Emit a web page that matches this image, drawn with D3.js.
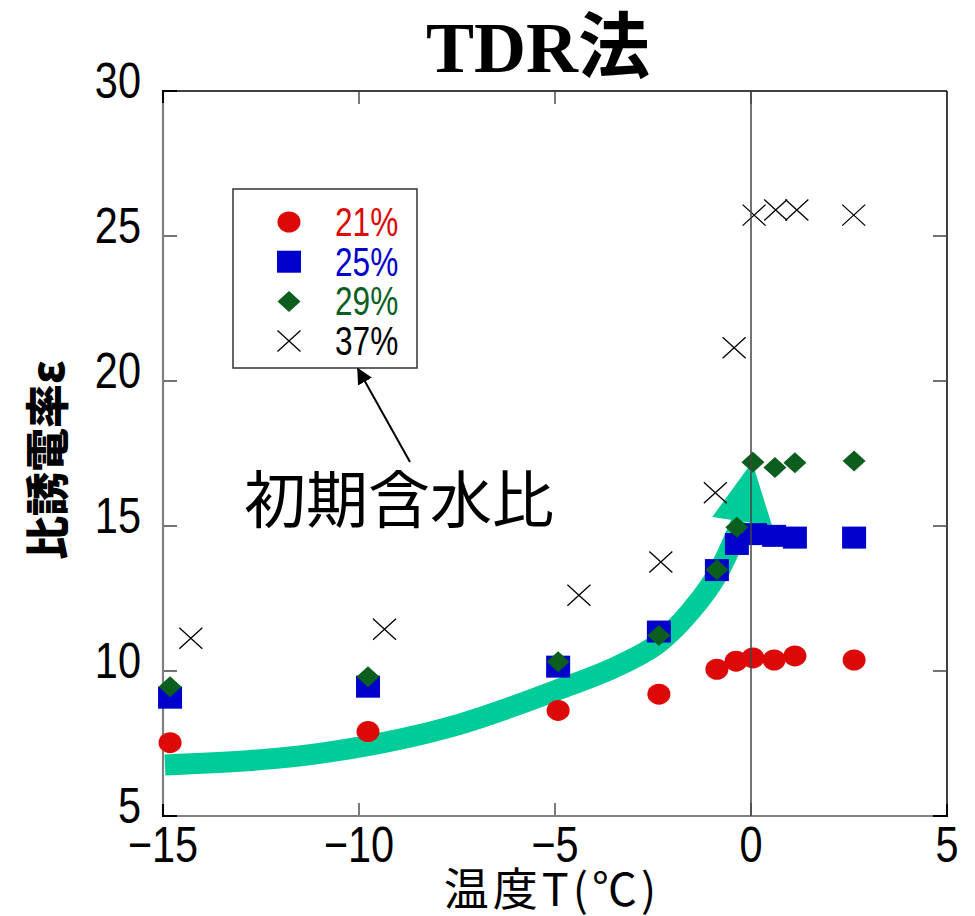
<!DOCTYPE html>
<html><head><meta charset="utf-8">
<script src="https://cdn.jsdelivr.net/npm/d3@7"></script>
<style>
html,body{margin:0;padding:0;background:#fff;}
svg{display:block;}
.num{font-family:"Liberation Sans","Arial",sans-serif;}
.cjk{font-family:"Noto Sans CJK JP","Noto Sans CJK SC",sans-serif;}
</style></head>
<body>
<svg id="chart" width="975" height="916"></svg>
<script>
// ---- data ----
const seriesNames = ["21%", "25%", "29%", "37%"];
const seriesColors = ["#DD0808", "#0000CC", "#0B5E1E", "#000000"];
const temp21 = [-14.82, -9.77, -4.92, -2.35, -0.87, -0.38, 0.05, 0.59, 1.12, 2.63];
const eps21  = [7.53, 7.91, 8.64, 9.20, 10.06, 10.34, 10.45, 10.38, 10.52, 10.38];
const temp25 = [-14.82, -9.77, -4.92, -2.35, -0.87, -0.36, 0.10, 0.59, 1.12, 2.63];
const eps25  = [9.08, 9.46, 10.15, 11.36, 13.48, 14.38, 14.72, 14.66, 14.60, 14.60];
const temp29 = [-14.82, -9.77, -4.92, -2.35, -0.87, -0.36, 0.05, 0.61, 1.12, 2.63];
const eps29  = [9.46, 9.80, 10.32, 11.22, 13.49, 14.96, 17.20, 17.02, 17.18, 17.24];
const temp37 = [-14.29, -9.35, -4.39, -2.30, -0.91, -0.43, 0.08, 0.63, 1.17, 2.62];
const eps37  = [11.13, 11.44, 12.61, 13.76, 16.15, 21.15, 25.72, 25.90, 25.90, 25.72];
const xTicks = [-15, -10, -5, 0, 5];
const yTicks = [5, 10, 15, 20, 25, 30];
// trend arrow (annotation) in data units
const trendX = [-14.95, -10.74, -7.42, -4.95, -3.34, -2.35, -1.56, -0.87, -0.23];
const trendY = [6.76, 7.21, 8.17, 9.34, 10.21, 10.97, 12.03, 13.31, 15.17];
const headX = [0.03, -0.99, 0.54];
const headY = [17.21, 15.31, 15.00];

const svg = d3.select("#chart");
const x = d3.scaleLinear().domain([-15, 5]).range([163, 947]);
const y = d3.scaleLinear().domain([5, 30]).range([816, 91]);

// condensed text helper
function ctext(parent, tx, ty, str, size, sx, anchor, color) {
  const g = parent.append("g").attr("transform", `translate(${tx},${ty}) scale(${sx},1)`);
  g.append("text").attr("class", "num").attr("x", 0).attr("y", 0)
    .attr("text-anchor", anchor).attr("dominant-baseline", "central")
    .attr("font-size", size).attr("fill", color).text(str);
  return g;
}

// trend band
const line = d3.line().x(d => x(d[0])).y(d => y(d[1])).curve(d3.curveMonotoneX);
svg.append("path").attr("d", line(d3.zip(trendX, trendY)))
  .attr("fill", "none").attr("stroke", "#00CC99").attr("stroke-width", 21).attr("stroke-linecap", "butt");
svg.append("path").attr("d", "M" + d3.zip(headX, headY).map(d => x(d[0]) + "," + y(d[1])).join("L") + "Z")
  .attr("fill", "#00CC99");

// frame: top & right black
svg.append("line").attr("x1", x(-15)).attr("x2", x(5)).attr("y1", y(30)).attr("y2", y(30)).attr("stroke", "#000").attr("stroke-width", 1.5);
svg.append("line").attr("x1", x(5)).attr("x2", x(5)).attr("y1", y(30)).attr("y2", y(5)).attr("stroke", "#000").attr("stroke-width", 1.5);

// ticks
const tl = 14;
yTicks.filter(v => v > 5 && v < 30).forEach(v => {
  svg.append("line").attr("x1", x(-15)).attr("x2", x(-15) + tl).attr("y1", y(v)).attr("y2", y(v)).attr("stroke", "#444").attr("stroke-width", 1.5);
  svg.append("line").attr("x1", x(5)).attr("x2", x(5) - tl).attr("y1", y(v)).attr("y2", y(v)).attr("stroke", "#444").attr("stroke-width", 1.5);
});
xTicks.filter(v => v > -15 && v < 5).forEach(v => {
  svg.append("line").attr("x1", x(v)).attr("x2", x(v)).attr("y1", y(30)).attr("y2", y(30) + 13).attr("stroke", "#333").attr("stroke-width", 1.3);
  svg.append("line").attr("x1", x(v)).attr("x2", x(v)).attr("y1", y(5)).attr("y2", y(5) - 13).attr("stroke", "#333").attr("stroke-width", 1.3);
});
svg.append("line").attr("x1", x(-15)).attr("x2", x(-15)).attr("y1", y(30)).attr("y2", y(5)).attr("stroke", "#808080").attr("stroke-width", 2.2);
svg.append("line").attr("x1", x(-15)).attr("x2", x(5)).attr("y1", y(5)).attr("y2", y(5)).attr("stroke", "#808080").attr("stroke-width", 2.2);
// corner marks
svg.append("path").attr("d", `M${x(-15)+14},${y(30)}H${x(-15)}V${y(30)+12}`).attr("fill", "none").attr("stroke", "#000").attr("stroke-width", 2);
svg.append("path").attr("d", `M${x(-15)},${y(5)-12}V${y(5)}H${x(-15)+14}`).attr("fill", "none").attr("stroke", "#000").attr("stroke-width", 2);
svg.append("path").attr("d", `M${x(5)-14},${y(5)}H${x(5)}V${y(5)-12}`).attr("fill", "none").attr("stroke", "#000").attr("stroke-width", 2);

// tick labels
yTicks.forEach(v => ctext(svg, 141, y(v) - 10, String(v), 50, 0.83, "end", "#000"));
xTicks.forEach(v => ctext(svg, x(v), 845, v < 0 ? "\u2212" + Math.abs(v) : String(v), 50, 0.83, "middle", "#000"));

// markers
function drawMarker(g, type, cx, cy, color) {
  if (type === 0) g.append("ellipse").attr("cx", cx).attr("cy", cy).attr("rx", 11.5).attr("ry", 10.5).attr("fill", color);
  else if (type === 1) g.append("rect").attr("x", cx - 12).attr("y", cy - 11).attr("width", 24).attr("height", 22).attr("fill", color);
  else if (type === 2) g.append("path").attr("d", `M${cx},${cy-10.5}L${cx+11.5},${cy}L${cx},${cy+10.5}L${cx-11.5},${cy}Z`).attr("fill", color);
  else g.append("path").attr("d", `M${cx-11.5},${cy-10.5}L${cx+11.5},${cy+10.5}M${cx-11.5},${cy+10.5}L${cx+11.5},${cy-10.5}`).attr("stroke", color).attr("stroke-width", 1.3).attr("fill", "none");
}
const allSeries = [[temp21, eps21], [temp25, eps25], [temp29, eps29], [temp37, eps37]];
const mg = svg.append("g");
allSeries.forEach((s, i) => {
  s[0].forEach((t, j) => drawMarker(mg, i, x(t), y(s[1][j]), seriesColors[i]));
});

// zero line
svg.append("line").attr("x1", x(0)).attr("x2", x(0)).attr("y1", y(30)).attr("y2", y(5)).attr("stroke", "#444").attr("stroke-width", 1.5);

// legend
svg.append("rect").attr("x", 233).attr("y", 189).attr("width", 184).attr("height", 179)
  .attr("fill", "#fff").attr("stroke", "#333").attr("stroke-width", 1.5);
seriesNames.forEach((n, i) => {
  const ly = 222 + i * 39.7;
  drawMarker(svg, i, 289, ly, seriesColors[i]);
  ctext(svg, 335, ly, n, 40, 0.79, "start", seriesColors[i]);
});

// annotation arrow
svg.append("defs").append("marker").attr("id", "ah").attr("viewBox", "0 0 10 10").attr("refX", 9).attr("refY", 5)
  .attr("markerWidth", 8).attr("markerHeight", 8).attr("orient", "auto").attr("markerUnits", "strokeWidth")
  .append("path").attr("d", "M0,0L10,5L0,10Z").attr("fill", "#000");
svg.append("line").attr("x1", 410).attr("y1", 462).attr("x2", 358).attr("y2", 369)
  .attr("stroke", "#000").attr("stroke-width", 2).attr("marker-end", "url(#ah)");
svg.append("text").attr("class", "cjk").attr("x", 244).attr("y", 496).attr("dominant-baseline", "central")
  .attr("font-size", 62).attr("fill", "#000").text("初期含水比");

// titles
svg.append("text").attr("x", 538).attr("y", 72).attr("text-anchor", "middle")
  .attr("font-family", "'Liberation Serif','Noto Sans CJK JP',serif").attr("font-weight", "bold")
  .attr("font-size", 72).attr("fill", "#000").text("TDR法");
svg.append("text").attr("class", "cjk").attr("transform", "translate(45,460) rotate(-90)")
  .attr("text-anchor", "middle").attr("dominant-baseline", "central").attr("font-weight", 900)
  .attr("font-size", 44).attr("fill", "#000").text("比誘電率ε");
svg.append("text").attr("class", "cjk").attr("x", 552).attr("y", 886).attr("text-anchor", "middle")
  .attr("dominant-baseline", "central").attr("font-size", 45).attr("letter-spacing", 4).attr("fill", "#000").text("温度T(℃)");
</script>
</body></html>
